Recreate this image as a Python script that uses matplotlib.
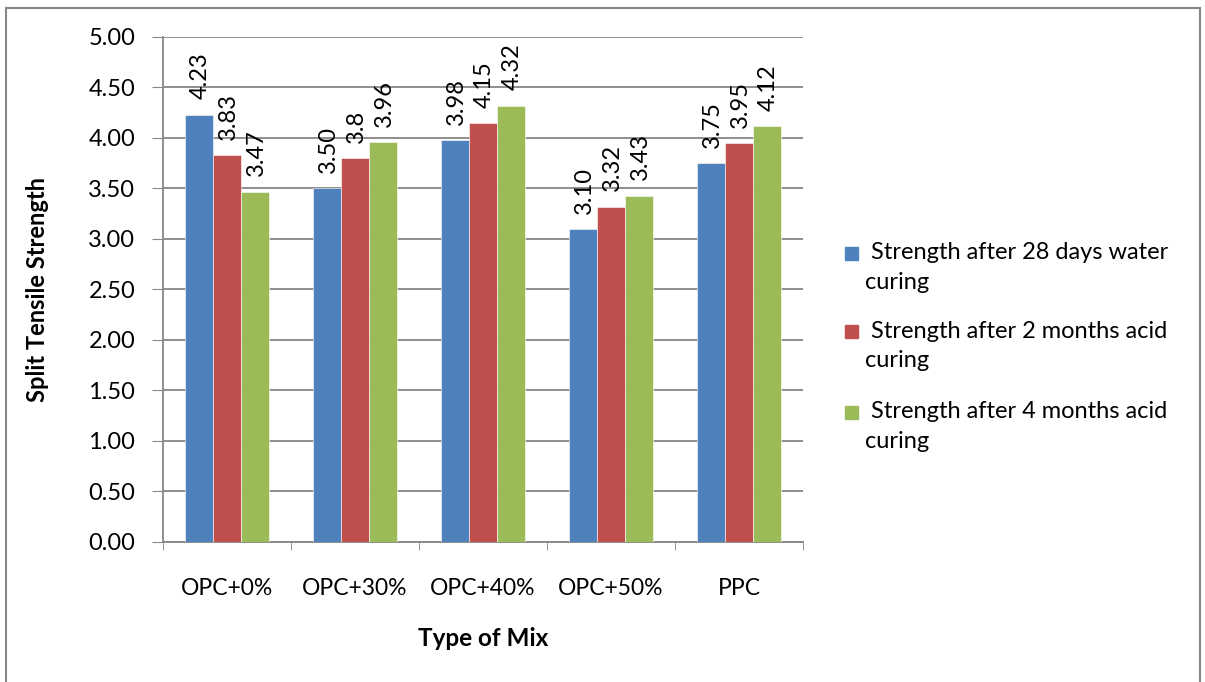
import numpy as np
import matplotlib.pyplot as plt
from matplotlib.patches import Rectangle

plt.rcParams['font.family'] = ['Lato', 'DejaVu Sans']

mixes = ["OPC+0%", "OPC+30%", "OPC+40%", "OPC+50%", "PPC"]
water_28d = [4.23, 3.50, 3.98, 3.10, 3.75]
acid_2m = [3.83, 3.80, 4.15, 3.32, 3.95]
acid_4m = [3.47, 3.96, 4.32, 3.43, 4.12]
label_2m = ["3.83", "3.8", "4.15", "3.32", "3.95"]

series = [
	(water_28d, None, "#4F81BD", " Strength after 28 days water\ncuring"),
	(acid_2m, label_2m, "#C0504D", " Strength after 2 months acid\ncuring"),
	(acid_4m, None, "#9BBB59", " Strength after 4 months acid\ncuring"),
]

def main():
	fig = plt.figure(figsize=(12.05, 6.82), dpi=100)
	ax = fig.add_axes([0.1353, 0.2053, 0.5311, 0.7405])

	x = np.arange(len(mixes))
	w = 0.22
	for i, (vals, labels, color, name) in enumerate(series):
		pos = x + (i - 1) * w
		ax.bar(pos, vals, w, color=color, edgecolor="white", linewidth=0.4, zorder=3)
		for p, v, k in zip(pos, vals, range(len(vals))):
			txt = labels[k] if labels else "%.2f" % v
			ax.annotate(txt, (p, v), xytext=(1, 11), textcoords="offset points",
				rotation=90, ha="center", va="bottom", fontsize=17, zorder=4)

	ax.set_xlim(-0.5, len(mixes) - 0.5)
	ax.set_ylim(0, 5)
	ax.set_yticks(np.arange(0, 5.01, 0.5))
	ax.set_yticklabels(["%.2f" % t for t in np.arange(0, 5.01, 0.5)], fontsize=17)
	ax.set_xticks(x)
	ax.set_xticklabels(mixes, fontsize=16.5)
	ax.set_xticks(np.arange(-0.5, len(mixes)), minor=True)
	ax.tick_params(axis="x", which="major", length=0, pad=26)
	ax.tick_params(axis="x", which="minor", length=6, color="#868686")
	ax.tick_params(axis="y", length=8, color="#868686", pad=12)
	ax.grid(axis="y", color="#868686", linewidth=1.3, zorder=0)
	for s in ["top", "right"]:
		ax.spines[s].set_visible(False)
	for s in ["left", "bottom"]:
		ax.spines[s].set_color("#868686")
		ax.spines[s].set_linewidth(1.3)

	ax.set_xlabel("Type of Mix", fontsize=17.5, fontweight="bold", labelpad=20)
	ax.set_ylabel("Split Tensile Strength", fontsize=17, fontweight="bold", labelpad=28)

	# legend drawn by hand to keep the square on the first line
	ys = [0.628, 0.513, 0.395]
	for (vals, labels, color, name), y in zip(series, ys):
		fig.patches.append(Rectangle((0.7013, y - 0.009), 0.0108, 0.019, color=color,
			transform=fig.transFigure))
		fig.text(0.7175, y + 0.017, name, fontsize=17, va="top", ha="left", linespacing=1.5)

	fig.patches.append(Rectangle((0.005, -0.05), 0.991, 1.038, fill=False,
		edgecolor="#868686", linewidth=1.5, transform=fig.transFigure))

	fig.savefig("out.png", dpi=100)

if __name__ == "__main__":
	main()
